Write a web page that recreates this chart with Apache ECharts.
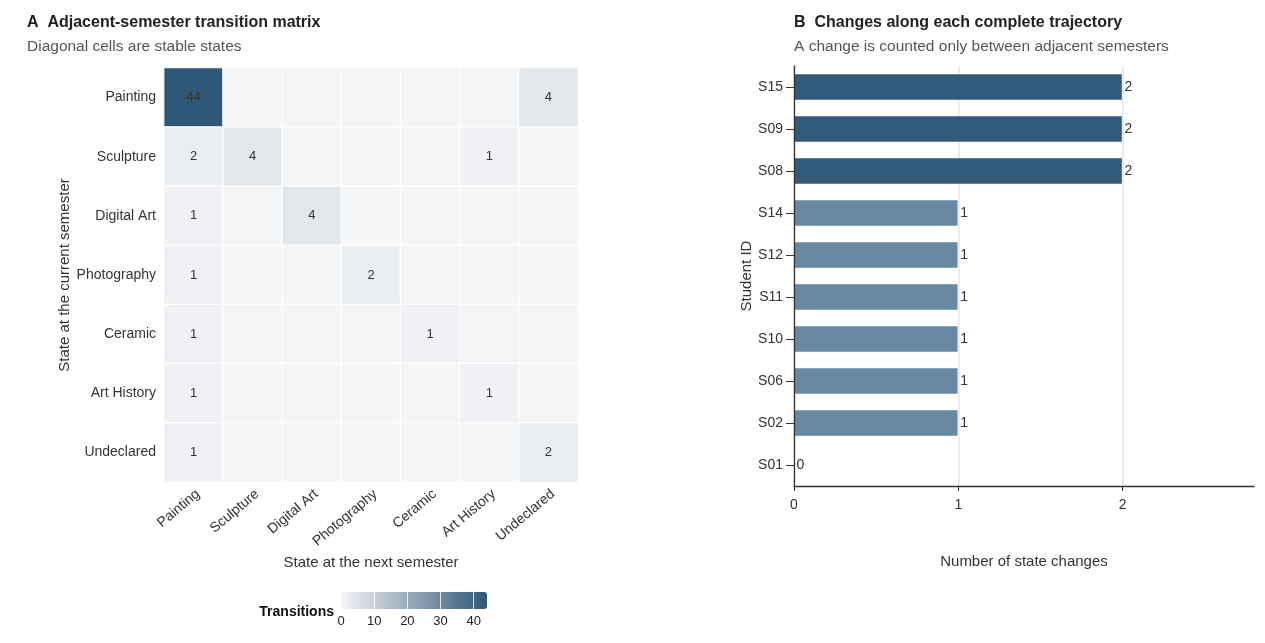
<!DOCTYPE html>
<html>
<head>
<meta charset="utf-8">
<title>Semester transitions</title>
<script src="https://cdn.jsdelivr.net/npm/echarts@6/dist/echarts.min.js"></script>
<style>
  html, body { margin: 0; padding: 0; background: #fff; }
  #main { width: 1265px; height: 643px; }
</style>
</head>
<body>
<div id="main"></div>
<script>
// states, in matrix order (rows = current semester, columns = next semester)
var states = ['Painting', 'Sculpture', 'Digital Art', 'Photography', 'Ceramic', 'Art History', 'Undeclared'];

// transition counts, one row per current state
var transitions = [
  [44, 0, 0, 0, 0, 0, 4],
  [2, 4, 0, 0, 0, 1, 0],
  [1, 0, 4, 0, 0, 0, 0],
  [1, 0, 0, 2, 0, 0, 0],
  [1, 0, 0, 0, 1, 0, 0],
  [1, 0, 0, 0, 0, 1, 0],
  [1, 0, 0, 0, 0, 0, 2]
];

// students, bottom to top as drawn
var students = ['S01', 'S02', 'S06', 'S10', 'S11', 'S12', 'S14', 'S08', 'S09', 'S15'];
var changes = [0, 1, 1, 1, 1, 1, 1, 2, 2, 2];

var legendTicks = [0, 10, 20, 30, 40];
var changeTicks = [0, 1, 2];

var FONT = '"Liberation Sans", Arial, sans-serif';

// heatmap cells: [column, row, value]
var cells = [];
for (var r = 0; r < transitions.length; r++) {
  for (var c = 0; c < transitions[r].length; c++) {
    cells.push([c, r, transitions[r][c]]);
  }
}

var myChart = echarts.init(document.getElementById('main'));

var option = {
  backgroundColor: '#fff',
  textStyle: { fontFamily: FONT },
  animation: false,
  title: [
    {
      text: 'A  Adjacent-semester transition matrix',
      subtext: 'Diagonal cells are stable states',
      left: 22, top: 10, itemGap: 8,
      textStyle: { fontSize: 16, fontWeight: 'bold', color: '#222', fontFamily: FONT },
      subtextStyle: { fontSize: 15.5, color: '#555', fontFamily: FONT }
    },
    {
      text: 'B  Changes along each complete trajectory',
      subtext: 'A change is counted only between adjacent semesters',
      left: 789, top: 10, itemGap: 8,
      textStyle: { fontSize: 16, fontWeight: 'bold', color: '#222', fontFamily: FONT },
      subtextStyle: { fontSize: 15.5, color: '#555', fontFamily: FONT }
    },
    {
      // colour bar caption
      text: 'Transitions',
      right: 1265 - 334, top: 605, padding: 0,
      textStyle: { fontSize: 14, fontWeight: 'bold', color: '#111', fontFamily: FONT }
    }
  ],
  grid: [
    { left: 164, top: 68, width: 414, height: 414 },   // heatmap
    { left: 794, top: 66, width: 460, height: 420 },   // bars
    { left: 341, top: 592, width: 146, height: 17 }    // colour bar ticks
  ],
  visualMap: {
    type: 'continuous',
    seriesIndex: 0,
    min: 0,
    max: 44,
    orient: 'horizontal',
    left: 326,
    top: 577,
    itemWidth: 17,
    itemHeight: 146,
    calculable: false,
    text: null,
    inRange: { color: ['#f4f5f7', '#2f5777'] },
    textStyle: { color: 'transparent' }
  },
  xAxis: [
    {
      gridIndex: 0,
      type: 'category',
      data: states,
      axisLine: { show: false },
      axisTick: { show: false },
      splitLine: { show: false },
      axisLabel: { rotate: 40, fontSize: 14, color: '#333', margin: 5, interval: 0, verticalAlign: 'top' },
      name: 'State at the next semester',
      nameLocation: 'middle',
      nameGap: 72,
      nameTextStyle: { fontSize: 15, color: '#333' }
    },
    {
      gridIndex: 1,
      type: 'value',
      min: 0,
      max: 2.8,
      axisLine: { show: true, lineStyle: { color: '#333', width: 1.3 } },
      axisTick: { show: true, length: 5, customValues: changeTicks, lineStyle: { color: '#333' } },
      axisLabel: { fontSize: 14, color: '#333', margin: 12, customValues: changeTicks },
      splitLine: { show: true, lineStyle: { color: '#e6e6e6', width: 1.5 } },
      name: 'Number of state changes',
      nameLocation: 'middle',
      nameGap: 68,
      nameTextStyle: { fontSize: 15, color: '#333' }
    },
    {
      gridIndex: 2,
      type: 'value',
      min: 0,
      max: 44,
      z: 10,
      axisLine: { show: false },
      axisTick: { show: false, customValues: [10, 20, 30, 40] },
      axisLabel: { fontSize: 13, color: '#222', margin: 6, customValues: legendTicks },
      splitLine: { show: true, lineStyle: { color: 'rgba(255,255,255,0.8)', width: 1 } }
    }
  ],
  yAxis: [
    {
      gridIndex: 0,
      type: 'category',
      data: states,
      inverse: true,
      axisLine: { show: false },
      axisTick: { show: false },
      splitLine: { show: false },
      axisLabel: { fontSize: 14, color: '#333', margin: 8 },
      name: 'State at the current semester',
      nameLocation: 'middle',
      nameGap: 86,
      nameTextStyle: { fontSize: 15, color: '#333' }
    },
    {
      gridIndex: 1,
      type: 'category',
      data: students,
      z: 3,
      axisLine: { show: true, lineStyle: { color: '#333', width: 1.3 } },
      axisTick: { show: true, alignWithLabel: true, length: 8, lineStyle: { color: '#333' } },
      axisLabel: { fontSize: 14, color: '#333', margin: 11 },
      splitLine: { show: false },
      name: 'Student ID',
      nameLocation: 'middle',
      nameGap: 40,
      nameTextStyle: { fontSize: 15, color: '#333' }
    },
    {
      gridIndex: 2,
      type: 'value',
      show: false
    }
  ],
  series: [
    {
      name: 'Transitions',
      type: 'heatmap',
      xAxisIndex: 0,
      yAxisIndex: 0,
      data: cells,
      itemStyle: { borderColor: '#fff', borderWidth: 1.2 },
      label: {
        show: true,
        fontSize: 13,
        color: '#333',
        formatter: function (p) { return p.value[2] === 0 ? '' : String(p.value[2]); }
      },
      emphasis: { disabled: true }
    },
    {
      name: 'Changes',
      type: 'bar',
      xAxisIndex: 1,
      yAxisIndex: 1,
      data: changes,
      barWidth: '64%',
      itemStyle: {
        color: function (p) { return p.value >= 2 ? '#325a7a' : '#6789a2'; },
        borderColor: 'rgba(255,255,255,0.45)',
        borderWidth: 1
      },
      label: { show: true, position: 'right', distance: 2, fontSize: 14, color: '#333' },
      emphasis: { disabled: true }
    }
  ]
};

myChart.setOption(option);
</script>
</body>
</html>
